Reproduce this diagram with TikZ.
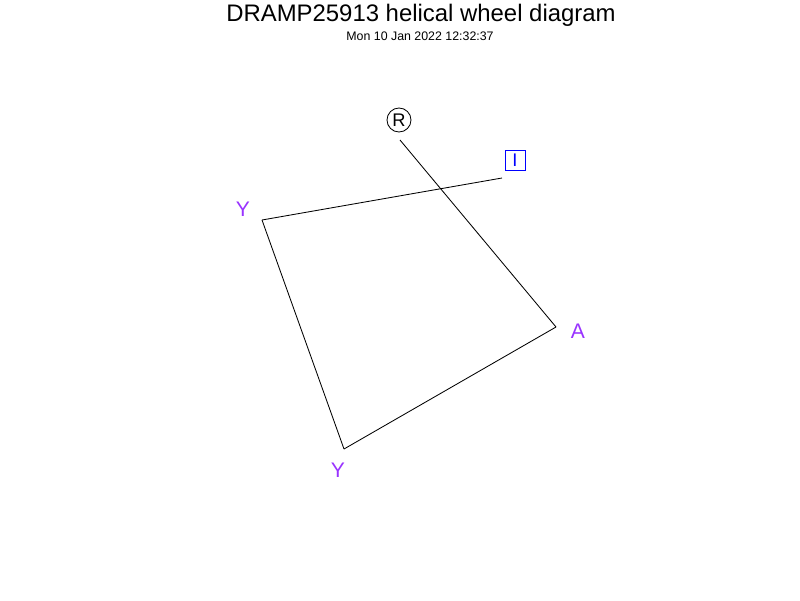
\documentclass[tikz,border=0pt]{standalone}
\usepackage{fontspec}
\setmainfont{Liberation Sans}
\usepackage{tikz}
\usetikzlibrary{positioning}
\definecolor{hphob}{HTML}{9933FF}
\definecolor{hpolar}{HTML}{0000FF}
\tikzset{
  reslabel/.style={inner sep=0pt,font=\fontsize{15}{15}\selectfont},
  phobnode/.style={reslabel,text=hphob},
  chgnode/.style={reslabel,circle,draw=black,semithick,minimum size=6mm,font=\fontsize{13}{13}\selectfont},
  polnode/.style={reslabel,draw=hpolar,text=hpolar,semithick,minimum size=5mm,font=\fontsize{13}{13}\selectfont},
  wheeledge/.style={black,line width=0.6pt},
}
\begin{document}
\begin{tikzpicture}[x=0.025cm,y=-0.025cm]
  \useasboundingbox (0,0) rectangle (800,600);
  % title
  \node[inner sep=0pt,font=\fontsize{17}{17}\selectfont] (title) at (421,15) {DRAMP25913 helical wheel diagram};
  \node[inner sep=0pt,font=\fontsize{8.8}{8.8}\selectfont] (stamp) at (420,36) {Mon 10 Jan 2022 12:32:37};
  % wheel vertices
  \coordinate (w1) at (400,140);
  \coordinate (w2) at (556,327);
  \coordinate (w3) at (344,449);
  \coordinate (w4) at (262,220);
  \coordinate (w5) at (502,178);
  % residue labels
  \node[chgnode] (nR) at (399,120) {R};
  \node[polnode] (nI) at (515,160) {I};
  \node[phobnode] (nY) at (243,209) {Y};
  \node[phobnode] (nA) at (578,331) {A};
  \node[phobnode] (nYb) at (338,470) {Y};
  % connections
  \draw[wheeledge] (w1) -- (w2);
  \draw[wheeledge] (w2) -- (w3);
  \draw[wheeledge] (w3) -- (w4);
  \draw[wheeledge] (w4) -- (w5);
\end{tikzpicture}
\end{document}
